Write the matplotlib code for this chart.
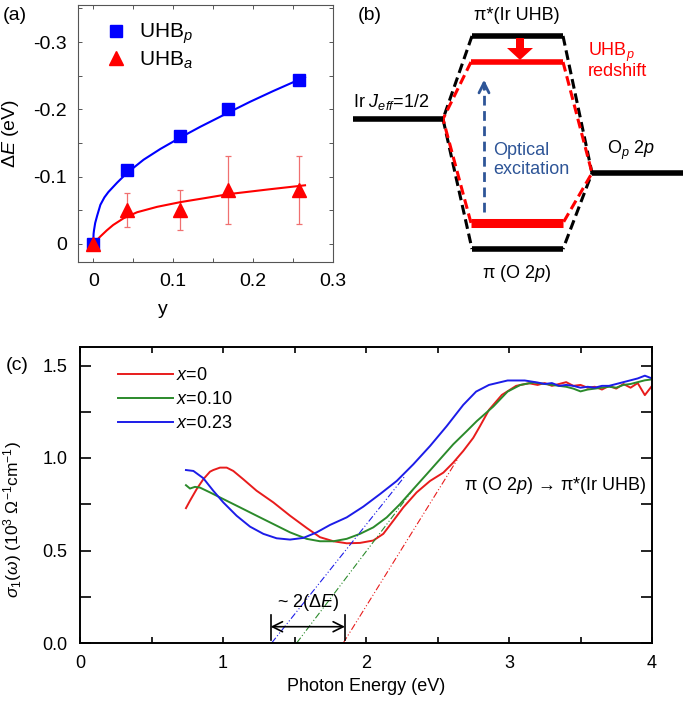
import numpy as np
import matplotlib
matplotlib.use("Agg")
import matplotlib.pyplot as plt
from matplotlib.ticker import MultipleLocator, FormatStrFormatter, FuncFormatter

plt.rcParams['font.family'] = ['Liberation Sans', 'DejaVu Sans']
plt.rcParams['mathtext.fontset'] = 'custom'
plt.rcParams['mathtext.rm'] = 'Liberation Sans'
plt.rcParams['mathtext.it'] = 'Liberation Sans:italic'
plt.rcParams['mathtext.bf'] = 'Liberation Sans:bold'
plt.rcParams['axes.unicode_minus'] = False

# ---- (a) donnees
y_pts = [0.0, 0.042, 0.109, 0.169, 0.258]
uhb_p = [0.0, -0.110, -0.161, -0.200, -0.244]
uhb_a = [0.0, -0.050, -0.050, -0.080, -0.080]
uhb_a_err = [0.0, 0.025, 0.030, 0.050, 0.050]

# courbes d'ajustement (relevees point par point)
fit_p_y = [0.0, 0.0005, 0.001, 0.0025, 0.005, 0.009, 0.014, 0.019, 0.030, 0.042, 0.063,
           0.084, 0.109, 0.134, 0.169, 0.196, 0.225, 0.265]
fit_p_E = [0.0, -0.015, -0.020, -0.031, -0.042, -0.058, -0.069, -0.077, -0.091, -0.105,
           -0.125, -0.141, -0.158, -0.174, -0.195, -0.211, -0.227, -0.248]
fit_a_y = [-0.005, 0.0, 0.009, 0.017, 0.025, 0.038, 0.055, 0.080, 0.109,
           0.140, 0.170, 0.220, 0.265]
fit_a_E = [0.005, 0.0, -0.011, -0.020, -0.028, -0.038, -0.047, -0.055, -0.062,
           -0.068, -0.074, -0.081, -0.087]

# ---- (c) spectres sigma_1
E_red = [0.741, 0.769, 0.816, 0.862, 0.909, 0.932, 0.979, 1.026, 1.072, 1.142, 1.235,
         1.352, 1.469, 1.585, 1.678, 1.772, 1.865, 1.958, 2.051, 2.121, 2.191, 2.261,
         2.354, 2.448, 2.541, 2.610, 2.680, 2.750, 2.797, 2.86, 2.95, 3.05, 3.14, 3.20,
         3.25, 3.30, 3.35, 3.40, 3.45, 3.50, 3.55, 3.60, 3.65, 3.70, 3.75, 3.80, 3.85,
         3.90, 3.95, 4.00]
s_red = [0.729, 0.769, 0.832, 0.885, 0.926, 0.935, 0.948, 0.948, 0.930, 0.885, 0.823,
         0.760, 0.688, 0.622, 0.572, 0.550, 0.539, 0.541, 0.554, 0.590, 0.661, 0.733,
         0.814, 0.876, 0.921, 0.975, 1.038, 1.109, 1.172, 1.26, 1.341, 1.39, 1.404, 1.395,
         1.405, 1.39, 1.40, 1.41, 1.39, 1.395, 1.38, 1.385, 1.37, 1.39, 1.375, 1.40, 1.38,
         1.405, 1.34, 1.39]

E_green = [0.741, 0.769, 0.804, 0.839, 0.909, 1.002, 1.119, 1.235, 1.352, 1.469, 1.585,
           1.678, 1.772, 1.865, 1.958, 2.051, 2.145, 2.238, 2.331, 2.424, 2.517, 2.610,
           2.704, 2.774, 2.89, 2.99, 3.08, 3.17, 3.25, 3.30, 3.35, 3.40, 3.45, 3.50, 3.55,
           3.60, 3.65, 3.70, 3.75, 3.80, 3.85, 3.90, 3.95, 4.00]
s_green = [0.853, 0.835, 0.844, 0.840, 0.814, 0.778, 0.733, 0.688, 0.643, 0.598, 0.563,
           0.550, 0.550, 0.563, 0.590, 0.625, 0.679, 0.751, 0.832, 0.912, 0.993, 1.074,
           1.145, 1.199, 1.278, 1.359, 1.395, 1.408, 1.40, 1.395, 1.39, 1.385, 1.375, 1.36,
           1.37, 1.375, 1.38, 1.385, 1.38, 1.395, 1.40, 1.41, 1.42, 1.425]

E_blue = [0.741, 0.793, 0.862, 0.932, 1.002, 1.095, 1.189, 1.282, 1.375, 1.469, 1.562,
          1.655, 1.748, 1.865, 1.981, 2.098, 2.215, 2.331, 2.448, 2.564, 2.68, 2.77,
          2.86, 2.99, 3.11, 3.20, 3.25, 3.30, 3.35, 3.40, 3.45, 3.50, 3.55, 3.60, 3.65,
          3.70, 3.75, 3.80, 3.85, 3.90, 3.95, 4.00]
s_blue = [0.935, 0.930, 0.891, 0.823, 0.760, 0.688, 0.629, 0.590, 0.566, 0.559, 0.568,
          0.598, 0.638, 0.679, 0.737, 0.805, 0.876, 0.966, 1.065, 1.172, 1.287, 1.359,
          1.395, 1.419, 1.419, 1.408, 1.40, 1.405, 1.39, 1.395, 1.39, 1.38, 1.385, 1.38,
          1.39, 1.39, 1.40, 1.41, 1.42, 1.43, 1.445, 1.43]

# extrapolations lineaires (E debut, E fin, sigma fin)
ext_red = ([1.841, 2.645], [0.0, 1.0])
ext_green = ([1.515, 2.33], [0.0, 0.83])
ext_blue = ([1.340, 2.273], [0.0, 0.903])
gap_E = [1.333, 1.853]

col_r, col_g, col_b = '#e81c1c', '#2b8a2b', '#1c1ce8'

fig = plt.figure(figsize=(6.85, 7.10), dpi=100)

# ================= (a)
ax1 = fig.add_axes([78/685, 1-262/710, 255/685, 257/710])
ax1.plot(fit_p_y, fit_p_E, color='blue', lw=1.5, zorder=2)
ax1.plot(fit_a_y, fit_a_E, color='red', lw=1.5, zorder=2)
ax1.errorbar(y_pts, uhb_a, yerr=uhb_a_err, fmt='none', ecolor='#f07070', elinewidth=0.9,
             capsize=2.5, capthick=0.9, zorder=1)
ax1.plot(y_pts, uhb_p, 's', color='blue', ms=9, label='UHB$_p$', zorder=3)
ax1.plot(y_pts, uhb_a, '^', color='red', ms=10, label='UHB$_a$', zorder=3)
ax1.set_xlim(-0.019, 0.3)
ax1.set_ylim(0.027, -0.355)
ax1.xaxis.set_major_locator(MultipleLocator(0.1))
ax1.xaxis.set_minor_locator(MultipleLocator(0.05))
ax1.yaxis.set_major_locator(MultipleLocator(0.1))
ax1.yaxis.set_minor_locator(MultipleLocator(0.05))
fmt = FuncFormatter(lambda v, p: "0" if abs(v) < 1e-9 else f"{v:.1f}")
ax1.xaxis.set_major_formatter(fmt)
ax1.yaxis.set_major_formatter(fmt)
ax1.tick_params(which='both', direction='in', top=True, right=True, length=3,
                width=0.7, color='#555555', labelsize=14, pad=8)
for s in ax1.spines.values():
    s.set_color('#555555')
    s.set_linewidth(0.8)
ax1.set_xlabel('y', fontsize=14)
ax1.xaxis.set_label_coords(0.333, -0.15)
ax1.set_ylabel(r'$\Delta E$ (eV)', fontsize=14)
ax1.yaxis.set_label_coords(-0.225, 0.5)
ax1.legend(loc='upper left', bbox_to_anchor=(0.05, 1.0), frameon=False, fontsize=15,
           handlelength=0.8, handletextpad=0.7, labelspacing=0.15, borderpad=0.3)
fig.text(15/685, 1-15/710, '(a)', fontsize=14, ha='center', va='center')

# ================= (b) schema des niveaux
ax2 = fig.add_axes([340/685, 1-300/710, 345/685, 300/710])
ax2.set_xlim(340, 685)
ax2.set_ylim(300, 0)
ax2.axis('off')

lvl_ir = ([353, 443], 119)
lvl_o = ([592, 683], 173)
lvl_pistar = ([472, 563], 36)
lvl_pi = ([472, 563], 249)
lvl_uhbp = ([471, 563], 62)
lvl_pired = ([471, 563], 223)

for (xs, yv) in [lvl_ir, lvl_o, lvl_pistar, lvl_pi]:
    ax2.plot(xs, [yv, yv], color='black', lw=4, solid_capstyle='butt', zorder=3)
ax2.plot(lvl_uhbp[0], [lvl_uhbp[1]]*2, color='red', lw=4, solid_capstyle='butt', zorder=4)
ax2.plot(lvl_pired[0], [lvl_pired[1]]*2, color='red', lw=6.5, solid_capstyle='butt', zorder=4)

dash = (0, (3.2, 1.6))
# liaisons noires
ax2.plot([lvl_pistar[0][0], lvl_ir[0][1], lvl_pi[0][0]],
         [lvl_pistar[1], lvl_ir[1], lvl_pi[1]], color='black', lw=2.2, ls=dash, zorder=2)
ax2.plot([lvl_pistar[0][1], lvl_o[0][0], lvl_pi[0][1]],
         [lvl_pistar[1], lvl_o[1], lvl_pi[1]], color='black', lw=2.2, ls=dash, zorder=2)
# liaisons rouges
ax2.plot([lvl_uhbp[0][0], lvl_ir[0][1], lvl_pired[0][0]],
         [lvl_uhbp[1], lvl_ir[1], lvl_pired[1]], color='red', lw=2.2, ls=dash, zorder=2.5)
ax2.plot([lvl_uhbp[0][1], lvl_o[0][0], lvl_pired[0][1]],
         [lvl_uhbp[1], lvl_o[1], lvl_pired[1]], color='red', lw=2.2, ls=dash, zorder=2.5)

# fleche rouge (redshift)
ax2.arrow(520, lvl_pistar[1] + 2, 0, lvl_uhbp[1] - lvl_pistar[1] - 4, width=8,
          head_width=26, head_length=12, length_includes_head=True,
          color='red', lw=0, zorder=5)
# fleche bleue (excitation optique)
blue_arrow = '#2e5597'
ax2.plot([484, 484], [212, 82], color=blue_arrow, lw=2, ls=(0, (3.5, 2)))
ax2.annotate('', xy=(484, 77), xytext=(484, 92),
             arrowprops=dict(arrowstyle='->', color=blue_arrow, lw=2, mutation_scale=18))

ax2.text(517, 15, 'π*(Ir UHB)', fontsize=13, ha='center', va='center')
ax2.text(517, 273, 'π (O 2$p$)', fontsize=13, ha='center', va='center')
ax2.text(353, 102, 'Ir $J_{eff}$=1/2', fontsize=13, ha='left', va='center')
ax2.text(607, 150, 'O$_p$ 2$p$', fontsize=13, ha='left', va='center')
ax2.text(588, 52, 'UHB$_p$', fontsize=13, ha='left', va='center', color='red')
ax2.text(588, 72, 'redshift', fontsize=13, ha='left', va='center', color='red')
ax2.text(493, 160, 'Optical\nexcitation', fontsize=13, ha='left', va='center',
         color=blue_arrow, linespacing=1.1)
fig.text(370/685, 1-15/710, '(b)', fontsize=14, ha='center', va='center')

# ================= (c)
ax3 = fig.add_axes([80/685, 1-643/710, 572/685, 296/710])
ax3.plot(E_red, s_red, color=col_r, lw=1.4, label='$x$=0')
ax3.plot(E_green, s_green, color=col_g, lw=1.4, label='$x$=0.10')
ax3.plot(E_blue, s_blue, color=col_b, lw=1.4, label='$x$=0.23')
dd = (0, (6, 2, 1, 2, 1, 2))
ax3.plot(ext_red[0], ext_red[1], color=col_r, lw=0.8, ls=dd)
ax3.plot(ext_green[0], ext_green[1], color=col_g, lw=0.8, ls=dd)
ax3.plot(ext_blue[0], ext_blue[1], color=col_b, lw=0.8, ls=dd)

# ~2(Delta E)
for e in gap_E:
    ax3.plot([e, e], [0.016, 0.15], color='black', lw=1.2)
ax3.annotate('', xy=(gap_E[0], 0.088), xytext=(gap_E[1], 0.088),
             arrowprops=dict(arrowstyle='<->', color='black', lw=1.2,
                             mutation_scale=18, shrinkA=0, shrinkB=0))
ax3.text(np.mean(gap_E), 0.217, r'~ 2($\Delta E$)', fontsize=13, ha='center', va='center')
ax3.text(3.96, 0.854, r'π (O 2$p$) → π*(Ir UHB)', fontsize=13, ha='right', va='center')

ax3.set_xlim(0, 4)
ax3.set_ylim(0, 1.6)
ax3.xaxis.set_major_locator(MultipleLocator(1))
ax3.xaxis.set_minor_locator(MultipleLocator(0.5))
ax3.yaxis.set_major_locator(MultipleLocator(0.5))
ax3.yaxis.set_minor_locator(MultipleLocator(0.25))
ax3.yaxis.set_major_formatter(FormatStrFormatter('%.1f'))
ax3.tick_params(which='both', direction='in', top=True, right=True, labelsize=13, pad=9,
                width=1.2)
ax3.tick_params(axis='y', which='both', length=8)
ax3.tick_params(axis='x', which='both', length=4)
for s in ax3.spines.values():
    s.set_linewidth(1.4)
ax3.set_xlabel('Photon Energy (eV)', fontsize=13)
ax3.set_ylabel(r'$\sigma_1(\omega)$ (10$^3$ $\Omega^{-1}$cm$^{-1}$)', fontsize=12.5)
ax3.yaxis.set_label_coords(-0.098, 0.416)
ax3.legend(loc='upper left', bbox_to_anchor=(0.045, 0.975), frameon=False, fontsize=13,
           handlelength=3.0, handletextpad=0.2, labelspacing=0.4, borderpad=0.2)
fig.text(17/685, 1-365/710, '(c)', fontsize=14, ha='center', va='center')

fig.savefig('out.png', dpi=100)
